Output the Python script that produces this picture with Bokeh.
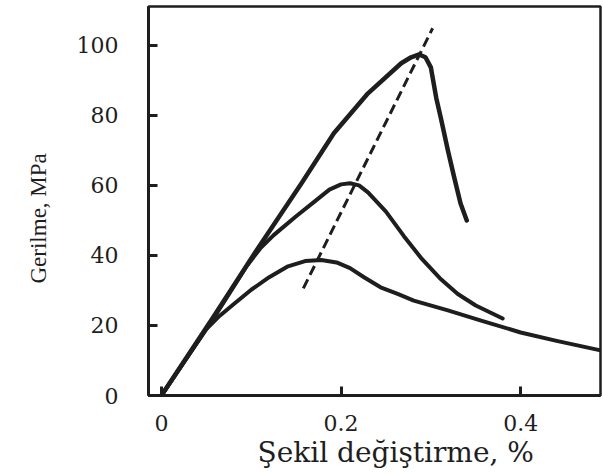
from bokeh.plotting import figure
from bokeh.models import Range1d, FixedTicker, Title
from bokeh.embed import file_html
from bokeh.resources import INLINE

# Curve A (strongest, peak ~97 MPa)
strain_a = [0, 0.058, 0.106, 0.156, 0.192, 0.23, 0.267, 0.278, 0.287, 0.294, 0.300, 0.306, 0.311, 0.319, 0.326, 0.333, 0.340]
stress_a = [0, 22.5, 41.5, 60.6, 74.9, 86.3, 94.9, 96.6, 97.4, 96.6, 93.7, 85.0, 79.4, 70.0, 62.3, 54.9, 50.0]

# Curve B (peak ~60 MPa)
strain_b = [0, 0.058, 0.095, 0.110, 0.125, 0.150, 0.169, 0.187, 0.200, 0.210, 0.220, 0.230, 0.250, 0.270, 0.290, 0.310, 0.330, 0.350, 0.380]
stress_b = [0, 22.0, 37.0, 42.0, 45.8, 51.2, 55.1, 58.8, 60.3, 60.6, 60.0, 58.0, 52.5, 45.5, 39.0, 33.5, 29.0, 25.7, 22.0]

# Curve C (peak ~38 MPa)
strain_c = [0, 0.050, 0.065, 0.080, 0.100, 0.120, 0.140, 0.160, 0.178, 0.195, 0.210, 0.226, 0.244, 0.263, 0.281, 0.319, 0.356, 0.400, 0.440, 0.489]
stress_c = [0, 19.0, 22.8, 26.0, 30.2, 33.8, 36.8, 38.4, 38.7, 38.0, 36.4, 33.7, 30.9, 29.0, 27.1, 24.3, 21.4, 18.0, 15.6, 12.9]

# Dashed line through the peaks
strain_d = [0.158, 0.302]
stress_d = [30.6, 104.9]

x_ticks = [0, 0.2, 0.4]
x_tick_labels = ["0", "0.2", "0.4"]
y_ticks = [0, 20, 40, 60, 80, 100]
x_title = "Şekil değiştirme, %"
y_title = "Gerilme, MPa"

ink = "#1e1e1e"

p = figure(width=603, height=475, output_backend="svg", toolbar_location=None,
           x_range=Range1d(-0.0144, 0.4889), y_range=Range1d(0, 111.1),
           min_border_left=147, min_border_right=3, min_border_top=6, min_border_bottom=80)

p.xgrid.visible = False
p.ygrid.visible = False
p.outline_line_color = ink
p.outline_line_width = 2.5
p.outline_line_alpha = 1.0
p.background_fill_color = "white"
p.border_fill_color = "white"

for ax in (p.xaxis[0], p.yaxis[0]):
    ax.axis_line_color = ink
    ax.axis_line_width = 3
    ax.major_tick_in = 9
    ax.major_tick_out = 0
    ax.major_tick_line_color = ink
    ax.major_tick_line_width = 3
    ax.minor_tick_line_color = None
    ax.major_label_text_font = "DejaVu Serif"
    ax.major_label_text_font_size = "22px"
    ax.major_label_text_color = ink

p.xaxis.ticker = FixedTicker(ticks=x_ticks)
p.xaxis.major_label_overrides = {t: s for t, s in zip(x_ticks, x_tick_labels)}
p.xaxis.major_label_standoff = 19
p.yaxis.ticker = FixedTicker(ticks=y_ticks)
p.yaxis.major_label_standoff = 30

p.line(strain_a, stress_a, line_color=ink, line_width=4.5, line_cap="round", line_join="round")
p.line(strain_b, stress_b, line_color=ink, line_width=4, line_cap="round", line_join="round")
p.line(strain_c, stress_c, line_color=ink, line_width=4, line_cap="round", line_join="round")
p.line(strain_d, stress_d, line_color=ink, line_width=3, line_dash="10 5")

xt = Title(text=x_title, align="left", offset=109, standoff=4, vertical_align="top",
           text_font="DejaVu Serif", text_font_size="28px", text_font_style="normal", text_color=ink)
p.add_layout(xt, "below")
yt = Title(text=y_title, align="left", offset=112, standoff=46,
           text_font="Liberation Serif", text_font_size="23px", text_font_style="normal", text_color=ink)
p.add_layout(yt, "left")

open("out.html", "w").write(file_html(p, INLINE))
